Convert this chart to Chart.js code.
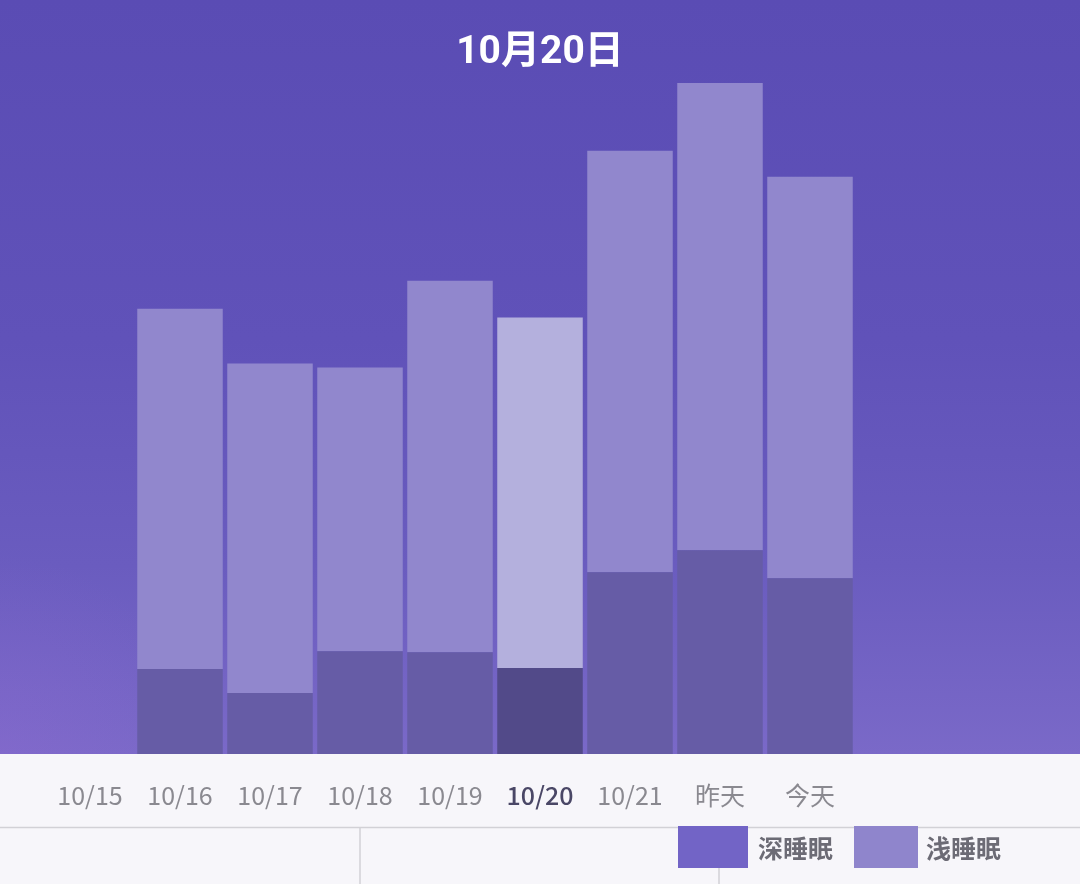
<!DOCTYPE html>
<html>
<head>
<meta charset="utf-8">
<script src="https://cdn.jsdelivr.net/npm/chart.js@4"></script>
<style>
  body { margin: 0; background: #f7f6fa; }
  #wrap { width: 1080px; height: 884px; position: relative; }
</style>
</head>
<body>
<div id="wrap"><canvas id="sueno"></canvas></div>
<script>
const dias = ['10/15', '10/16', '10/17', '10/18', '10/19', '10/20', '10/21', '昨天', '今天'];
// minutos de sueño por día (10/15 sin datos)
const suenoProfundo = [null, 85, 61, 103, 102, 86, 182, 204, 176];
const suenoLigero = [null, 361, 330, 284, 372, 351, 422, 468, 402];
const nombresSerie = ['深睡眠', '浅睡眠'];
const diaElegido = 5;
const titulo = '10月20日';

const FUENTE = "'Noto Sans CJK SC', Roboto, sans-serif";
const colorProfundo = '#665ca6';
const colorLigero = '#9187cd';
const colorProfundoSel = '#524a89';
const colorLigeroSel = '#b4b0dd';
const coloresLeyenda = ['#7264c6', '#8f85cc'];

const fondo = {
  id: 'fondo',
  beforeDraw(chart) {
    const { ctx, width, height, chartArea } = chart;
    const abajo = chartArea.bottom;
    ctx.save();
    const g = ctx.createLinearGradient(0, 0, 0, abajo);
    g.addColorStop(0, '#5a4cb4');
    g.addColorStop(0.45, '#6052b9');
    g.addColorStop(0.75, '#6a5cbf');
    g.addColorStop(1, '#7a69c8');
    ctx.fillStyle = g;
    ctx.fillRect(0, 0, width, abajo);
    const r = ctx.createRadialGradient(0, abajo, 0, 0, abajo, 200);
    r.addColorStop(0, 'rgba(145, 105, 210, 0.3)');
    r.addColorStop(1, 'rgba(145, 105, 210, 0)');
    ctx.fillStyle = r;
    ctx.fillRect(0, 0, width, abajo);

    ctx.fillStyle = '#f7f6fa';
    ctx.fillRect(0, abajo, width, height - abajo);
    ctx.strokeStyle = '#d2d1d6';
    ctx.lineWidth = 1.5;
    ctx.beginPath();
    ctx.moveTo(0, 827.5);
    ctx.lineTo(width, 827.5);
    ctx.moveTo(360, 827.5);
    ctx.lineTo(360, height);
    ctx.moveTo(719, 827.5);
    ctx.lineTo(719, height);
    ctx.stroke();

    ctx.fillStyle = '#ffffff';
    ctx.font = `bold 39px Roboto, 'Noto Sans CJK SC', sans-serif`;
    ctx.textAlign = 'center';
    ctx.textBaseline = 'middle';
    ctx.fillText(titulo, width / 2, 53);
    ctx.restore();
  },
  afterDraw(chart) {
    const { ctx } = chart;
    const cajas = [{ x: 678, w: 70, tx: 758 }, { x: 854, w: 64, tx: 926 }];
    ctx.save();
    chart.data.datasets.forEach((ds, i) => {
      const c = cajas[i];
      ctx.fillStyle = coloresLeyenda[i];
      ctx.fillRect(c.x, 826, c.w, 42);
      ctx.fillStyle = '#6c6b75';
      ctx.font = `bold 25px ${FUENTE}`;
      ctx.textAlign = 'left';
      ctx.textBaseline = 'middle';
      ctx.fillText(ds.label, c.tx, 848);
    });
    ctx.restore();
  }
};

const ctx = document.getElementById('sueno');

new Chart(ctx, {
  type: 'bar',
  data: {
    labels: dias,
    datasets: [{
      label: nombresSerie[0],
      data: suenoProfundo,
      backgroundColor: dias.map((d, i) => i === diaElegido ? colorProfundoSel : colorProfundo),
      borderWidth: 0,
      barPercentage: 0.95,
      categoryPercentage: 1
    }, {
      label: nombresSerie[1],
      data: suenoLigero,
      backgroundColor: dias.map((d, i) => i === diaElegido ? colorLigeroSel : colorLigero),
      borderWidth: 0,
      barPercentage: 0.95,
      categoryPercentage: 1
    }]
  },
  options: {
    responsive: true,
    maintainAspectRatio: false,
    animation: false,
    layout: {
      padding: { top: 55, left: 45, right: 225, bottom: 48 }
    },
    plugins: {
      legend: { display: false },
      tooltip: { enabled: false }
    },
    scales: {
      x: {
        stacked: true,
        grid: { display: false, drawTicks: false },
        border: { display: false },
        ticks: {
          padding: 26,
          autoSkip: false,
          maxRotation: 0,
          color: (c) => c.index === diaElegido ? '#4a4766' : '#8a8990',
          font: (c) => ({
            size: 25,
            family: FUENTE,
            weight: c.index === diaElegido ? '500' : '400'
          })
        }
      },
      y: {
        stacked: true,
        display: false,
        min: 0,
        max: 700
      }
    }
  },
  plugins: [fondo]
});
</script>
</body>
</html>
